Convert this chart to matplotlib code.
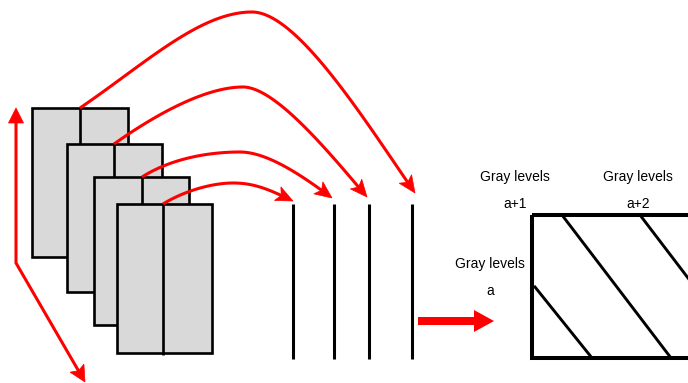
import numpy as np
import matplotlib
matplotlib.use("Agg")
import matplotlib.pyplot as plt
from matplotlib.patches import Rectangle, Polygon

W, H = 688, 383

# stacked image frames: (left, top, right, bottom, divider_x)
frames_left = [32, 67, 94, 117]
frames_top = [108, 144, 177, 204]
frames_right = [128, 162, 189, 212]
frames_bottom = [257, 292, 325, 353]
frames_div = [80, 114, 142, 163]

# red curved arrows: start, peak, end and handles
curve_start = [(80, 108), (114, 144), (142, 177), (163, 204)]
curve_c1 = [(146, 63), (155, 115), (172, 158), (184, 191)]
curve_c2 = [(200, 12), (205, 87), (210, 152), (212, 183)]
curve_peak = [(252, 12), (243, 87), (240, 152), (233, 183)]
curve_c3 = [(297, 12), (275, 87), (268, 152), (255, 183)]
curve_c4 = [(364, 119), (328, 151), (304, 177), (270, 190)]
curve_end = [(415, 193), (367, 197), (332, 198), (293, 201)]

# vertical lines (run-length lines)
vlines_x = [293, 334, 369, 412]
vlines_top = 204
vlines_bottom = 359

# matrix box
box = (532, 215, 780, 358)
diag_lines = [((535, 287), (592, 358)), ((562, 215), (671, 358)), ((640, 215), (749, 358))]

labels = ["Gray levels", "a+1", "Gray levels", "a+2", "Gray levels", "a"]
label_pos = [(515, 177), (515, 204), (638, 177), (638, 204), (490, 264), (490, 291)]

RED = "#ff0000"

fig = plt.figure(figsize=(W / 100, H / 100), dpi=100)
ax = fig.add_axes([0, 0, 1, 1])
ax.set_xlim(0, W)
ax.set_ylim(H, 0)
ax.axis("off")


def bez(p0, p1, p2, p3, n=60):
    t = np.linspace(0, 1, n)[:, None]
    p0, p1, p2, p3 = map(np.array, (p0, p1, p2, p3))
    return (1 - t) ** 3 * p0 + 3 * (1 - t) ** 2 * t * p1 + 3 * (1 - t) * t ** 2 * p2 + t ** 3 * p3


def head(tip, prev, length=17, half=7.5, notch=4, z=10):
    tip = np.array(tip, float)
    d = tip - np.array(prev, float)
    d /= np.hypot(*d)
    n = np.array([-d[1], d[0]])
    base = tip - d * length
    pts = [tip, base + n * half, base + d * notch, base - n * half]
    ax.add_patch(Polygon(pts, closed=True, fc=RED, ec=RED, lw=0.5, zorder=z))
    return tip - d * (length - notch)


# frames
for i in range(4):
    l, t, r, b = frames_left[i], frames_top[i], frames_right[i], frames_bottom[i]
    ax.add_patch(Rectangle((l, t), r - l, b - t, fc="#d9d9d9", ec="black", lw=1.9, zorder=2 + i))
    nb = frames_top[i + 1] if i < 3 else b + 2
    ax.plot([frames_div[i], frames_div[i]], [t, nb], color="black", lw=1.9, zorder=2 + i,
            solid_capstyle="butt")

# curves
for i in range(4):
    a = bez(curve_start[i], curve_c1[i], curve_c2[i], curve_peak[i])
    b = bez(curve_peak[i], curve_c3[i], curve_c4[i], curve_end[i])
    pts = np.vstack([a, b[1:]])
    stop = head(pts[-1], pts[-4])
    # trim the line at head base
    dist = np.hypot(*(pts - pts[-1]).T)
    keep = dist > 12
    line = np.vstack([pts[keep], stop])
    ax.plot(line[:, 0], line[:, 1], color=RED, lw=2.2, zorder=9, solid_capstyle="butt")

# left axis arrows
corner = (16, 263)
up_tip = (16, 108)
down_tip = (85, 382)
s1 = head(up_tip, corner, length=15, half=7.5, notch=0)
s2 = head(down_tip, corner, length=16, half=8, notch=3)
ax.plot([s1[0], corner[0], s2[0]], [s1[1], corner[1], s2[1]], color=RED, lw=2.2, zorder=9)

# vertical lines
for x in vlines_x:
    ax.plot([x, x], [vlines_top, vlines_bottom], color="black", lw=2.2, solid_capstyle="butt")

# fat arrow
ax.add_patch(Polygon([(418, 317), (474, 317), (474, 310), (494, 321), (474, 332), (474, 325), (418, 325)],
                     closed=True, fc=RED, ec="none", zorder=5))

# matrix box
bx0, by0, bx1, by1 = box
ax.add_patch(Rectangle((bx0, by0), bx1 - bx0, by1 - by0, fc="none", ec="black", lw=2.9, zorder=6))
for (x0, y0), (x1, y1) in diag_lines:
    ax.plot([x0, x1], [y0, y1], color="black", lw=2.1, zorder=6)

for txt, (x, y) in zip(labels, label_pos):
    ax.text(x, y, txt, ha="center", va="center", fontsize=10, family="Liberation Sans", color="black")

fig.savefig("out.png", dpi=100)
